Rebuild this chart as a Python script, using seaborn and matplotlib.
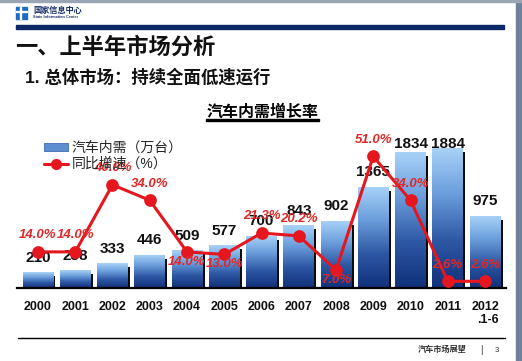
import numpy as np
import pandas as pd
import matplotlib
matplotlib.use("Agg")
import matplotlib.pyplot as plt
from matplotlib.colors import LinearSegmentedColormap
from matplotlib.patches import Rectangle, Patch
from matplotlib.lines import Line2D
import seaborn as sns

# ---------------- data ----------------
years = ["2000", "2001", "2002", "2003", "2004", "2005", "2006",
         "2007", "2008", "2009", "2010", "2011", "2012\n.1-6"]
demand = [210, 238, 333, 446, 509, 577, 700, 843, 902, 1365, 1834, 1884, 975]
growth = [14.0, 14.0, 40.0, 34.0, 14.0, 13.0, 21.3, 20.2, 7.0, 51.0, 34.0, 2.6, 2.6]
growth_labels = ["14.0%", "14.0%", "40.0%", "34.0%", "14.0%", "13.0%", "21.3%",
                 "20.2%", "7.0%", "51.0%", "34.0%", "2.6%", "2.6%"]
legend_labels = ["汽车内需（万台）", "同比增速（%）"]
chart_title = "汽车内需增长率"
heading = "一、上半年市场分析"
subheading = "1. 总体市场：持续全面低速运行"
org_cn = "国家信息中心"
org_en = "State Information Center"
footer = "汽车市场展望"
page_no = "3"

df = pd.DataFrame({"year": years, "demand": demand, "growth": growth})

sns.set_theme(style="white")
plt.rcParams["font.family"] = ["Liberation Sans", "Noto Sans CJK SC", "DejaVu Sans"]

W, H = 522, 361
fig = plt.figure(figsize=(W / 100, H / 100), dpi=100)
fig.patch.set_facecolor("white")

def fx(px):
    return px / W

def fy(py):
    return 1 - py / H

# ---------------- slide decoration ----------------
fig.patches.append(Rectangle((fx(516), 0), fx(6), 1, transform=fig.transFigure,
                             color="#6f8299", zorder=0))
fig.patches.append(Rectangle((0, fy(1.5)), 1, 1.5 / H, transform=fig.transFigure,
                             color="#9aa6b4", zorder=0))
# logo
fig.patches.append(Rectangle((fx(16), fy(19)), fx(11), 12 / H, transform=fig.transFigure,
                             color="#1c6cc4", zorder=1))
fig.patches.append(Rectangle((fx(20), fy(19)), fx(1.4), 12 / H, transform=fig.transFigure,
                             color="white", zorder=2))
fig.patches.append(Rectangle((fx(16), fy(12)), fx(11), 1.4 / H, transform=fig.transFigure,
                             color="white", zorder=2))
fig.text(fx(33), fy(10.5), org_cn, fontsize=5.9, fontweight="bold", color="#1a2f6a",
         va="center", ha="left")
fig.text(fx(33), fy(17.5), org_en, fontsize=2.8, fontweight="bold", color="#1a2f6a",
         va="center", ha="left")
# navy rule
fig.patches.append(Rectangle((fx(16), fy(29)), fx(488), 4.5 / H, transform=fig.transFigure,
                             color="#0c2a68", zorder=1))
fig.text(fx(15), fy(48), heading, fontsize=16, fontweight="bold", color="#111111",
         va="center", ha="left")
fig.text(fx(25), fy(77), subheading, fontsize=12.5, fontweight="bold", color="#111111",
         va="center", ha="left")
fig.text(fx(262.5), fy(112.5), chart_title, fontsize=11.5, fontweight="bold",
         color="black", va="center", ha="center")
fig.patches.append(Rectangle((fx(206), fy(121)), fx(113), 1.6 / H, transform=fig.transFigure,
                             color="black", zorder=1))
# footer
fig.add_artist(Line2D([fx(18), fx(505)], [fy(338), fy(338)], transform=fig.transFigure,
                      color="black", lw=1.0))
fig.text(fx(466), fy(350), footer, fontsize=5.9, fontweight="bold", color="#333333",
         va="center", ha="right")
fig.text(fx(481), fy(350), "|", fontsize=7, color="#333333", va="center", ha="center")
fig.text(fx(497), fy(350), page_no, fontsize=5.5, color="#333333", va="center", ha="center")

# ---------------- chart ----------------
ax_left, ax_right = 17.5, 505.5
ax_top, ax_base = 130, 288
ax = fig.add_axes([fx(ax_left), fy(ax_base), (ax_right - ax_left) / W, (ax_base - ax_top) / H])
ax.set_facecolor("none")

sns.barplot(data=df, x="year", y="demand", ax=ax, width=0.82, color="#5f8fd0",
            saturation=1, errorbar=None, zorder=2)

ymax_bar = 2126
px_per_unit = (ax_base - ax_top) / ymax_bar

cmap = LinearSegmentedColormap.from_list(
    "bar", ["#10307a", "#2d57a4", "#6a9ddb", "#a9d3f8"])
grad = np.linspace(0, 1, 256).reshape(-1, 1)
shadow_w = 0.07
for p in list(ax.patches):
    x0, w, h = p.get_x(), p.get_width(), p.get_height()
    # drop shadow on the right side
    sh = max(h - 4 / px_per_unit, 0)
    ax.add_patch(Rectangle((x0 + w - 0.01, 0), shadow_w, sh, color="#0a0a0a",
                           zorder=1.5, lw=0))
    p.set_facecolor("none")
    p.set_edgecolor("none")
    im = ax.imshow(grad, cmap=cmap, origin="lower", aspect="auto",
                   extent=[x0, x0 + w, 0, h], zorder=2, interpolation="bicubic")
    im.set_clip_path(p)

# value labels
cap = (ax_base - 144) / px_per_unit - 15 / px_per_unit
for i, v in enumerate(demand):
    yv = min(v, cap)
    ax.annotate(f"{v}", xy=(i, yv), xytext=(0, 10.5), textcoords="offset points",
                ha="center", va="center", fontsize=11, fontweight="bold",
                color="#111111", zorder=5)

ax.set_xlim(-0.55, 12.55)
ax.set_ylim(0, ymax_bar)
ax.set_xlabel("")
ax.set_ylabel("")
ax.set_yticks([])
ax.tick_params(axis="x", length=0, pad=9)
for lab in ax.get_xticklabels():
    lab.set_fontweight("bold")
    lab.set_fontsize(9)
    lab.set_color("#111111")
    lab.set_multialignment("right")
for s in ["top", "right", "left"]:
    ax.spines[s].set_visible(False)
ax.spines["bottom"].set_color("black")
ax.spines["bottom"].set_linewidth(1.6)
ax.spines["bottom"].set_zorder(6)

# growth line on twin axis
ax2 = ax.twinx()
red = "#e5161e"
sns.pointplot(data=df, x="year", y="growth", ax=ax2, color=red, markers="o",
              markersize=7.5, linewidth=2.2, errorbar=None, zorder=4)
ax2.set_xlim(-0.55, 12.55)
ymax_line = (ax_base - ax_top) / 2.58
ax2.set_ylim(0, ymax_line)
ax2.set_ylabel("")
ax2.set_yticks([])
for s in ["top", "right", "left", "bottom"]:
    ax2.spines[s].set_visible(False)

below = {4, 5, 8}
for i, (g, lab) in enumerate(zip(growth, growth_labels)):
    off = -7 if i in below else 12
    ax2.annotate(lab, xy=(i, g), xytext=(0, off), textcoords="offset points",
                 ha="center", va="center", fontsize=9.5, fontweight="bold",
                 fontstyle="italic", color="#e02828", zorder=6)

handles = [Patch(facecolor="#5d8ed2", edgecolor="#2d57a4", lw=0.5),
           Line2D([], [], color=red, lw=2.2, marker="o", markersize=7)]
fig.legend(handles, legend_labels, loc="upper left",
           bbox_to_anchor=(fx(44), fy(141)), bbox_transform=fig.transFigure,
           frameon=False, fontsize=10, handlelength=1.7, handleheight=0.5,
           handletextpad=0.3, labelspacing=0.15, borderpad=0, borderaxespad=0)

fig.savefig("out.png", dpi=100, facecolor="white")
